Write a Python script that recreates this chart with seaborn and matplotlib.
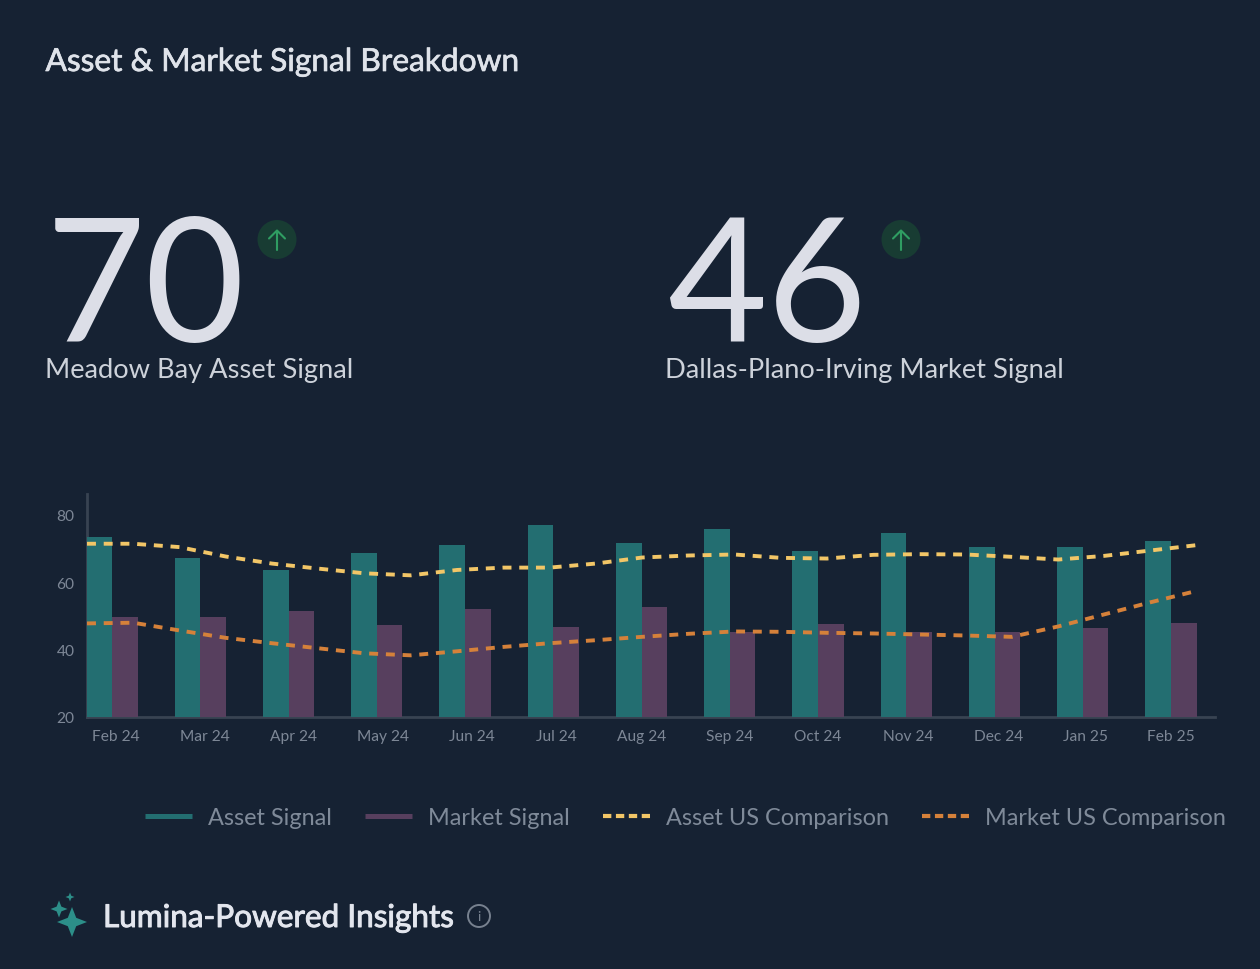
import numpy as np
import pandas as pd
import matplotlib
matplotlib.use("Agg")
import matplotlib.pyplot as plt
import matplotlib.patheffects as pe
from matplotlib.lines import Line2D
from matplotlib.patches import Circle, PathPatch
from matplotlib.path import Path
import seaborn as sns

months = ["Feb 24", "Mar 24", "Apr 24", "May 24", "Jun 24", "Jul 24", "Aug 24",
          "Sep 24", "Oct 24", "Nov 24", "Dec 24", "Jan 25", "Feb 25"]
asset_signal = [73.5, 67.2, 63.7, 68.7, 71.0, 77.0, 71.7, 75.8, 69.3, 74.6, 70.5, 70.5, 72.3]
market_signal = [49.7, 49.7, 51.5, 47.3, 52.0, 46.7, 52.7, 45.2, 47.6, 45.2, 45.2, 46.2, 47.9]
asset_us = [71.4, 71.4, 70.4, 67.6, 65.5, 64.0, 62.6, 62.0, 63.6, 64.3, 64.3, 65.5, 67.3,
            67.9, 68.2, 67.2, 67.0, 68.1, 68.3, 68.2, 67.5, 66.7, 67.8, 69.4, 71.0]
market_us = [47.7, 47.9, 45.6, 43.4, 41.8, 40.3, 38.8, 38.2, 39.4, 40.7, 41.8, 42.7, 43.7,
             44.6, 45.3, 45.2, 44.9, 44.7, 44.4, 44.1, 43.7, 46.8, 50.4, 54.0, 57.4]
series_names = ["Asset Signal", "Market Signal", "Asset US Comparison", "Market US Comparison"]

BG = "#162233"
TEAL = "#236e71"
PURPLE = "#573f5e"
YELLOW = "#f2c667"
ORANGE = "#d5813a"
W, H = 1260, 970

sns.set_style("dark")
plt.rcParams["font.family"] = ["Lato", "DejaVu Sans"]

fig = plt.figure(figsize=(W / 100, H / 100), dpi=100, facecolor=BG)

# full-figure overlay in pixel coordinates for the header and icons
bg = fig.add_axes([0, 0, 1, 1], facecolor=BG)
bg.set_xlim(0, W)
bg.set_ylim(H, 0)
bg.axis("off")

bold = [pe.withStroke(linewidth=0.5, foreground="#dfe3ea")]
bg.text(45.5, 72, "Asset & Market Signal Breakdown", color="#dfe3ea", fontsize=22.8,
        va="baseline", path_effects=bold)
bg.text(46, 342.5, "70", color="#dcdee7", fontsize=124, va="baseline")
bg.text(667, 342.5, "46", color="#dcdee7", fontsize=124, va="baseline")
bg.text(45, 378, "Meadow Bay Asset Signal", color="#cdd2da", fontsize=19.6, va="baseline")
bg.text(665, 378, "Dallas-Plano-Irving Market Signal", color="#cdd2da", fontsize=19.6, va="baseline")
bg.text(103, 928, "Lumina-Powered Insights", color="#e3e6ee", fontsize=22.7,
        va="baseline", path_effects=[pe.withStroke(linewidth=0.7, foreground="#e3e6ee")])


def up_badge(cx, cy):
    bg.add_patch(Circle((cx, cy), 19.5, facecolor="#183c33", edgecolor="none"))
    bg.plot([cx, cx], [cy + 10, cy - 9], color="#2f9d62", lw=1.5, solid_capstyle="round")
    bg.plot([cx - 8, cx, cx + 8], [cy - 1, cy - 9, cy - 1], color="#2f9d62", lw=1.5,
            solid_capstyle="round", solid_joinstyle="round")


def sparkle(cx, cy, r, color="#2c8f89"):
    k = 0.28 * r
    v = [(cx, cy - r), (cx + k, cy - k), (cx + r, cy), (cx + k, cy + k), (cx, cy + r),
         (cx - k, cy + k), (cx - r, cy), (cx - k, cy - k), (cx, cy - r)]
    codes = [Path.MOVETO] + [Path.LINETO] * 7 + [Path.CLOSEPOLY]
    bg.add_patch(PathPatch(Path(v, codes), facecolor=color, edgecolor="none"))


up_badge(277, 240.5)
up_badge(901, 240.5)
sparkle(72, 923, 15)
sparkle(59, 910, 8.5)
sparkle(70, 898, 4.5)
bg.add_patch(Circle((479, 917), 11, facecolor="none", edgecolor="#77818f", lw=1.4))
bg.text(479, 917, "i", color="#77818f", fontsize=10, ha="center", va="center")

# chart area
left, right, top, bottom = 87, 1215, 495, 717.5
ax = fig.add_axes([left / W, 1 - bottom / H, (right - left) / W, (bottom - top) / H])
ax.set_facecolor("none")

bars = pd.DataFrame({
    "month": months * 2,
    "value": asset_signal + market_signal,
    "series": [series_names[0]] * len(months) + [series_names[1]] * len(months),
})
sns.barplot(data=bars, x="month", y="value", hue="series", palette=[TEAL, PURPLE],
            width=0.58, gap=0, saturation=1, legend=False, ax=ax, linewidth=0)

px_per_cat = 88.25
x0 = -25 / px_per_cat
x1 = (right - 112) / px_per_cat
line_x = np.linspace(x0, (1197 - 112) / px_per_cat, len(asset_us))
dash = (0, (2.3, 2.0))
for vals, col in ((asset_us, YELLOW), (market_us, ORANGE)):
    frame = pd.DataFrame({"x": line_x, "y": vals})
    sns.lineplot(data=frame, x="x", y="y", color=col, linewidth=2.8, linestyle=dash,
                 errorbar=None, ax=ax, sort=False, legend=False, dash_capstyle="butt")

ax.set_xlim(x0, x1)
ax.set_ylim(20, 86.2)
ax.set_xlabel("")
ax.set_ylabel("")
ax.grid(False)
for s in ("top", "right"):
    ax.spines[s].set_visible(False)
for s in ("left", "bottom"):
    ax.spines[s].set_color("#384352")
    ax.spines[s].set_linewidth(2)
    ax.spines[s].set_zorder(0.5)
ax.set_yticks([20, 40, 60, 80])
label_shift = [4, 5, 5, 6, 7, 3, 0, 0, 0, 2, 4, 3, 0]
ax.set_xticks([i + s / px_per_cat for i, s in enumerate(label_shift)])
ax.set_xticklabels(months)
ax.tick_params(axis="both", length=0, labelcolor="#7d8796", labelsize=11.2)
ax.tick_params(axis="x", pad=9)
ax.tick_params(axis="y", pad=9)

handles = [
    Line2D([], [], color=TEAL, lw=3.6, solid_capstyle="butt"),
    Line2D([], [], color=PURPLE, lw=3.6, solid_capstyle="butt"),
    Line2D([], [], color=YELLOW, lw=3, linestyle=(0, (2.0, 1.1))),
    Line2D([], [], color=ORANGE, lw=3, linestyle=(0, (2.0, 1.1))),
]
bg.legend(handles, series_names, loc="center left", bbox_to_anchor=(145 / W, 1 - 819 / H),
          bbox_transform=fig.transFigure, ncol=4, frameon=False, fontsize=16.9,
          labelcolor="#7f8a99", handlelength=2.0, handletextpad=0.68, columnspacing=1.42,
          borderpad=0, borderaxespad=0)

fig.savefig("out.png", dpi=100, facecolor=BG)
